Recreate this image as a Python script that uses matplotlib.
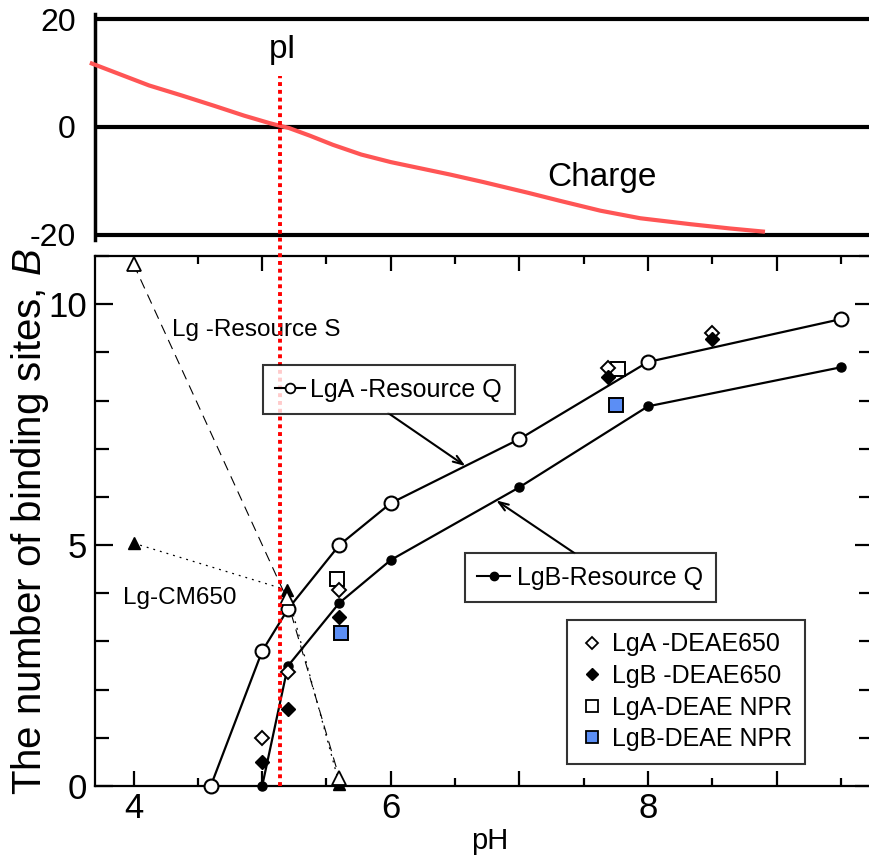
import numpy as np
import matplotlib
matplotlib.use("Agg")
import matplotlib.pyplot as plt
from matplotlib.lines import Line2D
from matplotlib.ticker import MultipleLocator

plt.rcParams['font.family'] = ['Liberation Sans', 'DejaVu Sans']
plt.rcParams['mathtext.fontset'] = 'custom'
plt.rcParams['mathtext.it'] = 'Liberation Sans:italic'
plt.rcParams['mathtext.rm'] = 'Liberation Sans'

# ---------------- data ----------------
charge_ph = [3.66, 3.89, 4.12, 4.38, 4.63, 4.86, 5.06, 5.21, 5.37, 5.55, 5.77, 6.00,
             6.20, 6.46, 6.72, 7.07, 7.32, 7.63, 7.94, 8.33, 8.64, 8.91]
charge_val = [11.9, 9.8, 7.7, 5.8, 3.9, 2.1, 0.7, -0.2, -1.6, -3.3, -5.1, -6.5,
              -7.5, -8.8, -10.2, -12.2, -13.7, -15.5, -16.9, -18.0, -18.8, -19.4]
charge_lines = [20, 0, -20]
charge_tick_labels = ['20', '0', '-20']
pI = 5.14

lgA_q_ph = [4.6, 5.0, 5.2, 5.6, 6.0, 7.0, 8.0, 9.5]
lgA_q_b = [0.0, 2.80, 3.67, 5.0, 5.87, 7.2, 8.80, 9.69]
lgB_q_ph = [5.0, 5.2, 5.6, 6.0, 7.0, 8.0, 9.5]
lgB_q_b = [0.0, 2.49, 3.80, 4.69, 6.2, 7.88, 8.69]

lgA_deae650_ph = [5.0, 5.2, 5.6, 7.69, 8.5]
lgA_deae650_b = [1.0, 2.36, 4.07, 8.67, 9.40]
lgB_deae650_ph = [5.0, 5.2, 5.6, 7.69, 8.5]
lgB_deae650_b = [0.5, 1.60, 3.51, 8.49, 9.27]
lgA_npr_ph = [5.58, 7.77]
lgA_npr_b = [4.29, 8.65]
lgB_npr_ph = [5.61, 7.75]
lgB_npr_b = [3.17, 7.90]

lg_s_ph = [4.0, 5.19, 5.6]
lg_s_b = [10.83, 3.9, 0.17]
lg_cm_ph = [4.0, 5.19, 5.6]
lg_cm_b = [5.04, 4.07, 0.04]

x_ticks = [4, 5, 6, 7, 8, 9]
x_tick_labels = ['4', '', '6', '', '8', '']
y_ticks = [0, 5, 10]
y_tick_labels = ['0', '5', '10']

# ---------------- figure ----------------
W, H = 870, 858
fig = plt.figure(figsize=(W / 100, H / 100), dpi=100)

xlim = (3.70, 9.75)

# top panel (charge)
ax1 = fig.add_axes([95 / W, 1 - 240 / H, 778 / W, 226 / H])
ax1.set_xlim(*xlim)
ax1.set_ylim(-20.93, 20.93)
for s in ['top', 'right', 'bottom']:
    ax1.spines[s].set_visible(False)
ax1.spines['left'].set_linewidth(2.5)
for v in charge_lines:
    ax1.axhline(v, color='black', lw=3, zorder=2)
ax1.set_xticks([])
ax1.set_yticks(charge_lines)
ax1.set_yticklabels(charge_tick_labels, fontsize=23)
ax1.tick_params(axis='y', length=0, pad=14)
ax1.plot(charge_ph, charge_val, color='#ff5555', lw=3, clip_on=False, zorder=3,
         solid_capstyle='butt', solid_joinstyle='round')
ax1.text(pI + 0.02, 14.3, 'pI', fontsize=24, ha='center', va='center')
ax1.text(7.64, -9.4, 'Charge', fontsize=24, ha='center', va='center')

# bottom panel
ax2 = fig.add_axes([95 / W, 1 - 786 / H, 778 / W, 530 / H])
ax2.set_xlim(*xlim)
ax2.set_ylim(0, 11)
for s in ax2.spines.values():
    s.set_linewidth(1.6)
ax2.set_xticks(x_ticks)
ax2.set_xticklabels(x_tick_labels)
ax2.xaxis.set_minor_locator(MultipleLocator(0.5))
ax2.set_yticks(y_ticks)
ax2.set_yticklabels(y_tick_labels)
ax2.yaxis.set_minor_locator(MultipleLocator(1))
ax2.tick_params(which='both', direction='in', top=True, right=True, width=1.6, labelsize=25)
ax2.tick_params(axis='x', which='major', length=11, pad=4)
ax2.tick_params(axis='x', which='minor', length=6)
ax2.tick_params(axis='y', which='major', length=13, pad=6)
ax2.tick_params(axis='y', which='minor', length=10)

fig.text(490 / W, 1 - 849 / H, 'pH', fontsize=21, ha='center', va='baseline')
fig.text(30 / W, 1 - 522 / H, r'The number of binding sites, $\it{B}$', rotation=90,
         fontsize=29, ha='center', va='center')

# pI dotted line spanning both panels
ax2.plot([pI, pI], [0, 14.73], color='red', lw=2.8, linestyle=(0, (1, 1)),
         clip_on=False, zorder=6)

# Lg-Resource S and CM650
ax2.plot(lg_s_ph, lg_s_b, color='black', lw=0.8, linestyle=(0, (9, 6)), zorder=3, clip_on=False)
ax2.plot(lg_cm_ph, lg_cm_b, color='black', lw=0.9, linestyle=(0, (1.5, 4)), zorder=3, clip_on=False)
ax2.plot(lg_cm_ph, lg_cm_b, linestyle='none', marker='^', ms=8, mfc='black', mec='black',
         zorder=5, clip_on=False)
ax2.plot(lg_s_ph, lg_s_b, linestyle='none', marker='^', ms=10, mfc='white', mec='black',
         mew=1.3, zorder=5, clip_on=False)

# Resource Q series
ax2.plot(lgA_q_ph, lgA_q_b, color='black', lw=1.6, marker='o', ms=10, mfc='white',
         mec='black', mew=1.5, zorder=4, clip_on=False)
ax2.plot(lgB_q_ph, lgB_q_b, color='black', lw=1.6, marker='o', ms=6.5, mfc='black',
         mec='black', zorder=4, clip_on=False)

# DEAE series
ax2.plot(lgA_npr_ph, lgA_npr_b, linestyle='none', marker='s', ms=10, mfc='white', mec='black',
         mew=1.4, zorder=5)
ax2.plot(lgA_deae650_ph, lgA_deae650_b, linestyle='none', marker='D', ms=7.5, mfc='white',
         mec='black', mew=1.4, zorder=5)
ax2.plot(lgB_deae650_ph, lgB_deae650_b, linestyle='none', marker='D', ms=7.5, mfc='black',
         mec='black', zorder=5)
ax2.plot(lgB_npr_ph, lgB_npr_b, linestyle='none', marker='s', ms=10, mfc='#5b8ef5', mec='black',
         mew=1.4, zorder=5)

# annotations
ax2.text(4.30, 9.46, 'Lg -Resource S', fontsize=17.5, ha='left', va='center')
ax2.text(3.92, 3.9, 'Lg-CM650', fontsize=17.5, ha='left', va='center')

tipA = 6.58
ax2.annotate('', xy=(tipA, np.interp(tipA, lgA_q_ph, lgA_q_b)), xytext=(5.98, 7.74),
             arrowprops=dict(arrowstyle='->,head_length=0.7,head_width=0.25', lw=1.5,
                             color='black', shrinkA=0, shrinkB=0), zorder=3)
tipB = 6.82
ax2.annotate('', xy=(tipB, np.interp(tipB, lgB_q_ph, lgB_q_b)), xytext=(7.43, 4.83),
             arrowprops=dict(arrowstyle='->,head_length=0.7,head_width=0.25', lw=1.5,
                             color='black', shrinkA=0, shrinkB=0), zorder=3)

leg_kw = dict(frameon=True, fancybox=False, fontsize=18, borderpad=0.5,
              borderaxespad=0, bbox_transform=fig.transFigure, loc='upper left')

hA = Line2D([], [], color='black', lw=1.5, marker='o', ms=7, mfc='white', mec='black', mew=1.3)
leg1 = ax2.legend([hA], ['LgA -Resource Q'], bbox_to_anchor=(263 / W, 1 - 365 / H),
                  handlelength=1.2, handletextpad=0.2, **leg_kw)
leg1.get_frame().set_edgecolor('black')
leg1.get_frame().set_linewidth(1.5)
ax2.add_artist(leg1)

hB = Line2D([], [], color='black', lw=1.5, marker='o', ms=6, mfc='black', mec='black')
leg2 = ax2.legend([hB], ['LgB-Resource Q'], bbox_to_anchor=(465 / W, 1 - 553 / H),
                  handlelength=1.3, handletextpad=0.3, **leg_kw)
leg2.get_frame().set_edgecolor('black')
leg2.get_frame().set_linewidth(1.5)
ax2.add_artist(leg2)

h3 = [Line2D([], [], ls='none', marker='D', ms=6, mfc='white', mec='black', mew=1.3),
      Line2D([], [], ls='none', marker='D', ms=6, mfc='black', mec='black'),
      Line2D([], [], ls='none', marker='s', ms=8.5, mfc='white', mec='black', mew=1.3),
      Line2D([], [], ls='none', marker='s', ms=8.5, mfc='#5b8ef5', mec='black', mew=1.3)]
leg3 = ax2.legend(h3, ['LgA -DEAE650', 'LgB -DEAE650', 'LgA-DEAE NPR', 'LgB-DEAE NPR'],
                  bbox_to_anchor=(567 / W, 1 - 620 / H), handlelength=1.0,
                  handletextpad=0.3, labelspacing=0.3, **leg_kw)
leg3.get_frame().set_edgecolor('black')
leg3.get_frame().set_linewidth(1.5)
for lg in (leg1, leg2, leg3):
    lg.set_zorder(7)

fig.savefig('out.png', dpi=100)
